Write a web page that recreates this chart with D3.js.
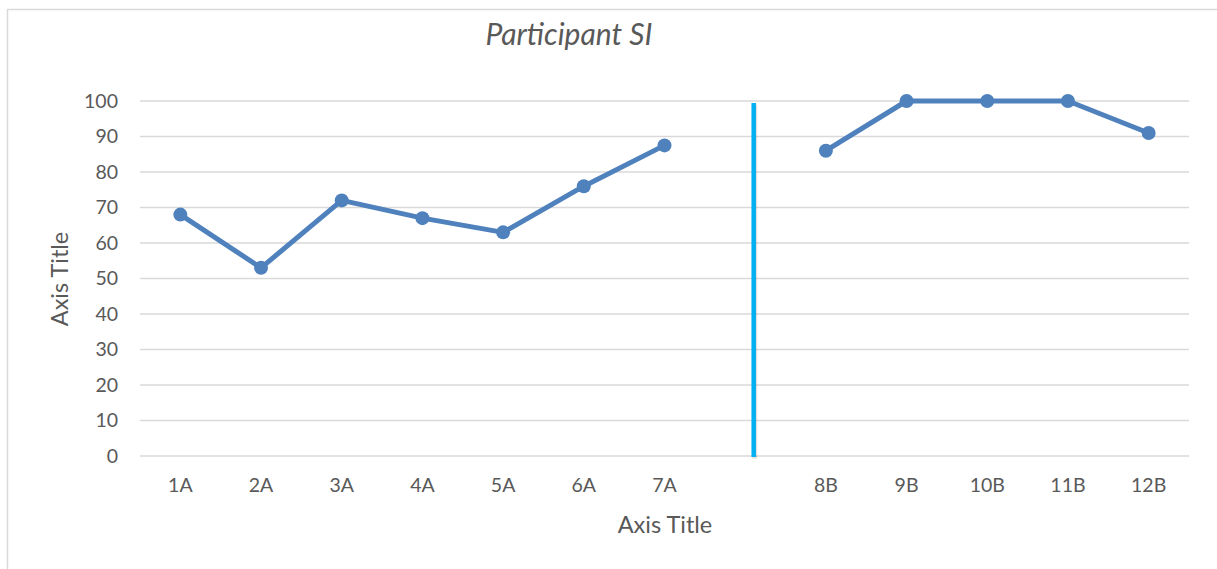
<!DOCTYPE html>
<html>
<head>
<meta charset="utf-8">
<script src="https://cdn.jsdelivr.net/npm/d3@7"></script>
<style>
  html, body { margin: 0; padding: 0; background: #fff; }
  svg { display: block; }
  text { font-family: Lato, "Open Sans", sans-serif; fill: #595959; }
</style>
</head>
<body>
<svg id="chart" width="1217" height="569"></svg>
<script>
// Sessions: phase A (1-7), a blank slot, then phase B (8-12)
const categories = ["1A", "2A", "3A", "4A", "5A", "6A", "7A", "gap", "8B", "9B", "10B", "11B", "12B"];
const phaseA = [
  { cat: "1A", value: 68 },
  { cat: "2A", value: 53 },
  { cat: "3A", value: 72 },
  { cat: "4A", value: 67 },
  { cat: "5A", value: 63 },
  { cat: "6A", value: 76 },
  { cat: "7A", value: 87.5 }
];
const phaseB = [
  { cat: "8B", value: 86 },
  { cat: "9B", value: 100 },
  { cat: "10B", value: 100 },
  { cat: "11B", value: 100 },
  { cat: "12B", value: 91 }
];
const yTicks = [0, 10, 20, 30, 40, 50, 60, 70, 80, 90, 100];
const dividerRange = [0, 100];

const svg = d3.select("#chart");
const W = 1217, H = 569;
const plot = { left: 140, right: 1189, top: 101, bottom: 456 };
const font = "Lato, 'Open Sans', sans-serif";

// Outer chart border
svg.append("rect")
  .attr("x", 7.5).attr("y", 9.5)
  .attr("width", W + 10).attr("height", H + 10)
  .attr("fill", "#fff").attr("stroke", "#d9d9d9").attr("stroke-width", 1.5);

const x = d3.scaleBand().domain(categories).range([plot.left, plot.right]).padding(0);
const y = d3.scaleLinear().domain([0, 100]).range([plot.bottom, plot.top]);
const cx = c => x(c) + x.bandwidth() / 2;

// Horizontal gridlines
svg.append("g")
  .selectAll("line")
  .data(yTicks)
  .join("line")
  .attr("x1", plot.left).attr("x2", plot.right)
  .attr("y1", d => y(d)).attr("y2", d => y(d))
  .attr("stroke", "#d9d9d9").attr("stroke-width", 1.5);

// Y axis labels
const yAxis = d3.axisLeft(y).tickValues(yTicks).tickSize(0).tickPadding(0);
const gy = svg.append("g").attr("transform", `translate(118,0)`).call(yAxis);
gy.select(".domain").remove();
gy.selectAll("text")
  .style("font-family", font)
  .style("font-size", "19.5px").attr("fill", "#595959");

// X axis labels (blank slot stays unlabeled)
const xAxis = d3.axisBottom(x).tickSize(0).tickPadding(0)
  .tickFormat(d => d === "gap" ? "" : d);
const gx = svg.append("g").attr("transform", `translate(0,${plot.bottom + 22})`).call(xAxis);
gx.select(".domain").remove();
gx.selectAll("text")
  .style("font-family", font)
  .style("font-size", "19.5px").attr("fill", "#595959");

// Phase divider with a faint shadow
const divX = cx("gap") + 8.5;
const divTop = y(dividerRange[1]) + 2;
const divBottom = y(dividerRange[0]) + 1;
svg.append("rect")
  .attr("x", divX - 1.5).attr("y", divTop + 1.5)
  .attr("width", 5).attr("height", divBottom - divTop)
  .attr("fill", "#000").attr("opacity", 0.12);
svg.append("rect")
  .attr("x", divX - 2.25).attr("y", divTop)
  .attr("width", 4.5).attr("height", divBottom - divTop)
  .attr("fill", "#00b0f0");

// Data series
const color = "#4f81bd";
const line = d3.line().x(d => cx(d.cat)).y(d => y(d.value));
[phaseA, phaseB].forEach(series => {
  svg.append("path").datum(series)
    .attr("d", line)
    .attr("fill", "none").attr("stroke", color)
    .attr("stroke-width", 5).attr("stroke-linejoin", "round");
  svg.append("g").selectAll("circle").data(series).join("circle")
    .attr("cx", d => cx(d.cat)).attr("cy", d => y(d.value))
    .attr("r", 7).attr("fill", color);
});

// Titles
svg.append("text")
  .attr("x", 569).attr("y", 45)
  .attr("text-anchor", "middle")
  .style("font-size", "30px").style("font-style", "italic")
  .text("Participant SI");

svg.append("text")
  .attr("x", 665).attr("y", 533)
  .attr("text-anchor", "middle")
  .style("font-size", "23.5px")
  .text("Axis Title");

svg.append("text")
  .attr("transform", "translate(68,279) rotate(-90)")
  .attr("text-anchor", "middle")
  .style("font-size", "23.5px")
  .text("Axis Title");
</script>
</body>
</html>
